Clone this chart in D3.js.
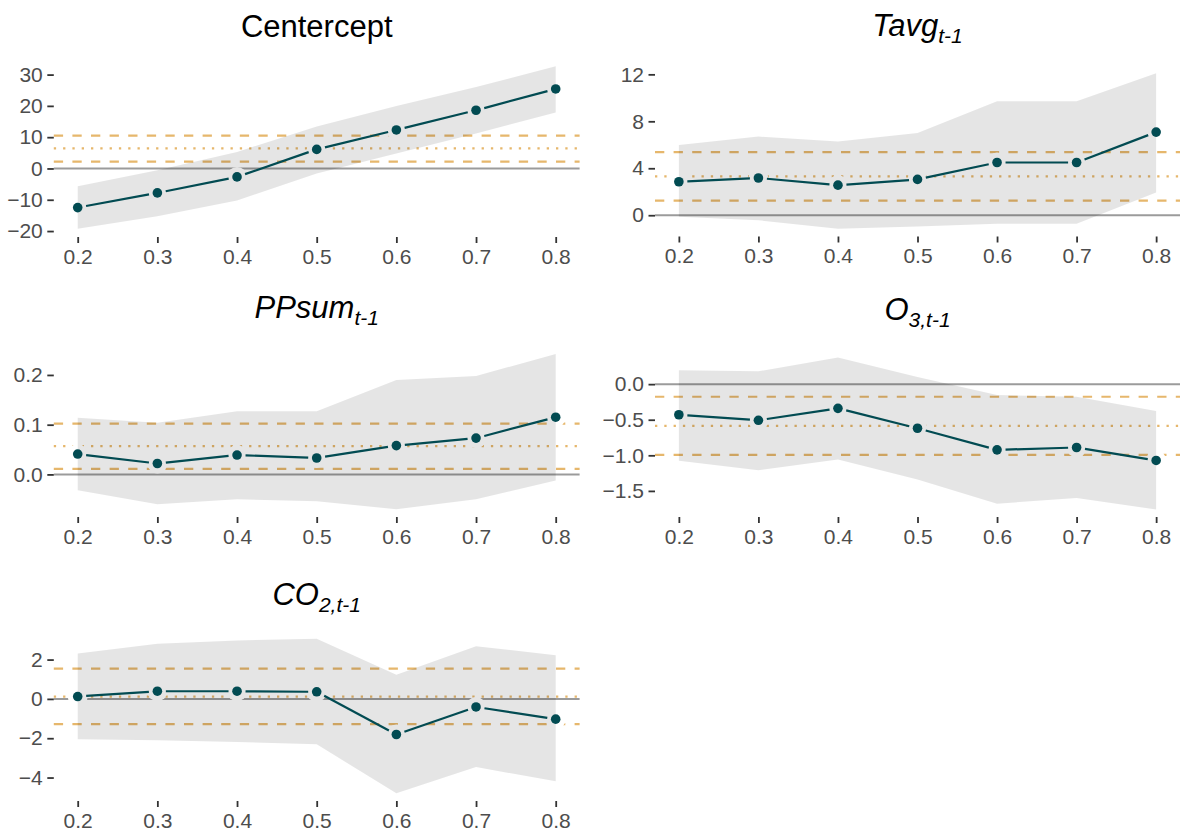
<!DOCTYPE html>
<html><head><meta charset="utf-8">
<script src="https://cdn.jsdelivr.net/npm/d3@7"></script>
<style>
body{margin:0;background:#fff}
svg{display:block}
text{font-family:"Liberation Sans",Arial,sans-serif}
</style>
</head><body>
<svg id="chart" width="1182" height="836"></svg>
<script>
// ---------- data ----------
const quantiles = [0.2, 0.3, 0.4, 0.5, 0.6, 0.7, 0.8];
const xTickLabels = ["0.2", "0.3", "0.4", "0.5", "0.6", "0.7", "0.8"];

const centerceptEst = [-12.5, -7.8, -2.7, 6.1, 12.3, 18.6, 25.4];
const centerceptLo  = [-19.3, -15.3, -10.2, -1.6, 4.8, 11.2, 17.9];
const centerceptHi  = [-5.7, -0.6, 5.3, 13.4, 20.0, 26.0, 32.7];
const centerceptOls = [6.4, 2.2, 10.5];          // estimate, lower, upper
const centerceptTicks = [-20, -10, 0, 10, 20, 30];

const tavgEst = [2.85, 3.17, 2.56, 3.05, 4.49, 4.49, 7.08];
const tavgLo  = [-0.14, -0.43, -1.15, -0.95, -0.72, -0.72, 1.93];
const tavgHi  = [5.98, 6.7, 6.28, 7.0, 9.7, 9.7, 12.1];
const tavgOls = [3.31, 1.24, 5.38];
const tavgTicks = [0, 4, 8, 12];

const ppsumEst = [0.041, 0.022, 0.039, 0.033, 0.058, 0.073, 0.115];
const ppsumLo  = [-0.032, -0.060, -0.050, -0.054, -0.070, -0.050, -0.012];
const ppsumHi  = [0.114, 0.104, 0.127, 0.127, 0.190, 0.198, 0.242];
const ppsumOls = [0.057, 0.011, 0.102];
const ppsumTicks = [0.0, 0.1, 0.2];

const o3Est = [-0.43, -0.508, -0.34, -0.62, -0.923, -0.89, -1.072];
const o3Lo  = [-1.077, -1.21, -1.06, -1.34, -1.68, -1.6, -1.76];
const o3Hi  = [0.196, 0.18, 0.373, 0.102, -0.154, -0.177, -0.378];
const o3Ols = [-0.587, -0.993, -0.177];
const o3Ticks = [-1.5, -1.0, -0.5, 0.0];

const co2Est = [0.12, 0.39, 0.39, 0.36, -1.81, -0.41, -1.03];
const co2Lo  = [-2.05, -2.1, -2.19, -2.31, -4.8, -3.47, -4.19];
const co2Hi  = [2.31, 2.8, 2.97, 3.06, 1.23, 2.68, 2.22];
const co2Ols = [0.12, -1.28, 1.54];
const co2Ticks = [-4, -2, 0, 2];

// ---------- layout ----------
const COLS = [{x0: 53.8, x1: 579.6}, {x0: 655, x1: 1180}];
const TEAL = "#024b52", ORANGE = "#e6b76c";

const f1 = d3.format(".1f"), f0 = d3.format("d");
const panels = [
  {col: 0, y0: 58, y1: 237, ty: 37, title: [["Centercept", false]], italic: false, est: centerceptEst, lo: centerceptLo, hi: centerceptHi, ols: centerceptOls, ticks: centerceptTicks, fmt: f0},
  {col: 1, y0: 65.4, y1: 236.5, ty: 36, title: [["Tavg", false], ["t-1", true]], italic: true, est: tavgEst, lo: tavgLo, hi: tavgHi, ols: tavgOls, ticks: tavgTicks, fmt: f0},
  {col: 0, y0: 346.3, y1: 517, ty: 318, title: [["PPsum", false], ["t-1", true]], italic: true, est: ppsumEst, lo: ppsumLo, hi: ppsumHi, ols: ppsumOls, ticks: ppsumTicks, fmt: f1},
  {col: 1, y0: 350, y1: 517, ty: 320, title: [["O", false], ["3,t-1", true]], italic: true, est: o3Est, lo: o3Lo, hi: o3Hi, ols: o3Ols, ticks: o3Ticks, fmt: f1},
  {col: 0, y0: 631, y1: 801, ty: 605, title: [["CO", false], ["2,t-1", true]], italic: true, est: co2Est, lo: co2Lo, hi: co2Hi, ols: co2Ols, ticks: co2Ticks, fmt: f0}
];

const svg = d3.select("#chart");

panels.forEach(p => {
  const c = COLS[p.col];
  const x = d3.scaleLinear().domain([0.2 - 0.03, 0.8 + 0.03]).range([c.x0, c.x1]);
  const ext = d3.extent([...p.lo, ...p.hi, ...p.ols, 0]);
  const pad = (ext[1] - ext[0]) * 0.05;
  const y = d3.scaleLinear().domain([ext[0] - pad, ext[1] + pad]).range([p.y1, p.y0]);
  const g = svg.append("g");
  const pts = quantiles.map((q, i) => ({q, est: p.est[i], lo: p.lo[i], hi: p.hi[i]}));

  // zero line
  g.append("line").attr("x1", c.x0).attr("x2", c.x1).attr("y1", y(0)).attr("y2", y(0))
    .attr("stroke", "#9b9b9b").attr("stroke-width", 2);
  // OLS reference lines
  p.ols.forEach((v, i) => {
    g.append("line").attr("x1", c.x0).attr("x2", c.x1).attr("y1", y(v)).attr("y2", y(v))
      .attr("stroke", ORANGE).attr("stroke-width", 2.2)
      .attr("stroke-dasharray", i === 0 ? "2.3,7" : "9.3,9.3");
  });
  // white halos behind points
  g.selectAll(".halo").data(pts).join("circle")
    .attr("cx", d => x(d.q)).attr("cy", d => y(d.est)).attr("r", 10).attr("fill", "#fff");
  // confidence band
  const area = d3.area().x(d => x(d.q)).y0(d => y(d.lo)).y1(d => y(d.hi));
  g.append("path").datum(pts).attr("d", area).attr("fill", "#000").attr("fill-opacity", 0.1);
  // line segments with gaps at points
  const gap = 8.5;
  d3.pairs(pts).forEach(([a, b]) => {
    const ax = x(a.q), ay = y(a.est), bx = x(b.q), by = y(b.est);
    const len = Math.hypot(bx - ax, by - ay), ux = (bx - ax) / len, uy = (by - ay) / len;
    g.append("line").attr("x1", ax + ux * gap).attr("y1", ay + uy * gap)
      .attr("x2", bx - ux * gap).attr("y2", by - uy * gap)
      .attr("stroke", TEAL).attr("stroke-width", 2.2);
  });
  g.selectAll(".pt").data(pts).join("circle")
    .attr("cx", d => x(d.q)).attr("cy", d => y(d.est)).attr("r", 4.8).attr("fill", TEAL);

  // axes
  const ya = g.append("g").attr("transform", `translate(${c.x0},0)`)
    .call(d3.axisLeft(y).tickValues(p.ticks).tickFormat(p.fmt).tickSize(6.5).tickPadding(4.5));
  const xa = g.append("g").attr("transform", `translate(0,${p.y1})`)
    .call(d3.axisBottom(x).tickValues(quantiles).tickFormat((d, i) => xTickLabels[i]).tickSize(6).tickPadding(6));
  [ya, xa].forEach(a => {
    a.select(".domain").remove();
    a.selectAll(".tick line").attr("stroke", "#333").attr("stroke-width", 1.8);
    a.selectAll(".tick text").attr("fill", "#4d4d4d").style("font-size", "21px")
      .style("font-family", "'Liberation Sans', Arial, sans-serif");
  });

  // title
  const t = g.append("text").attr("x", (c.x0 + c.x1) / 2).attr("y", p.ty)
    .attr("text-anchor", "middle").attr("fill", "#000")
    .style("font-size", "31px").style("font-style", p.italic ? "italic" : "normal");
  p.title.forEach(([s, sub]) => {
    const ts = t.append("tspan").text(s);
    if (sub) ts.style("font-size", "21px").attr("dy", 7);
  });
});
</script>
</body></html>
